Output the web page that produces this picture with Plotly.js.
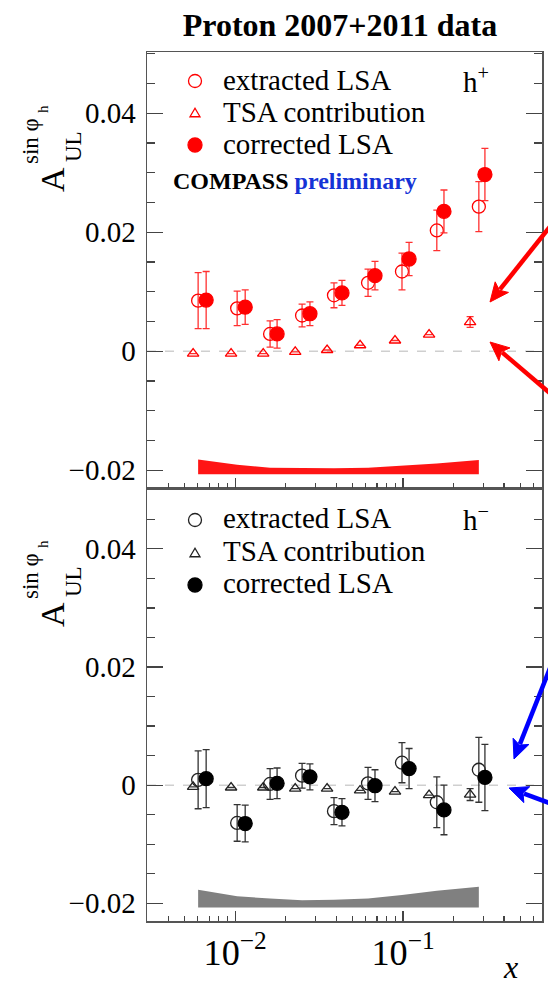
<!DOCTYPE html>
<html>
<head>
<meta charset="utf-8">
<script src="https://cdn.plot.ly/plotly-3.0.1.min.js"></script>
<style>
  html, body { margin: 0; padding: 0; background: #fff; }
  #chart { width: 548px; height: 987px; }
</style>
</head>
<body>
<div id="chart"></div>
<script>
// x positions of the three marker sets in each bin (slightly staggered)
const xTSA  = [0.00562, 0.00946, 0.0147, 0.0228, 0.0353, 0.0555, 0.0896, 0.143, 0.251];
const xExtr = [0.00602, 0.01028, 0.01615, 0.02505, 0.0388, 0.0619, 0.0986, 0.159, 0.283];
const xCorr = [0.00672, 0.01148, 0.01778, 0.0279, 0.0433, 0.0681, 0.1087, 0.1754, 0.3076];

// h+ : extracted LSA, TSA contribution, corrected LSA
const extrPos    = [0.0085, 0.0072, 0.0029, 0.0060, 0.0094, 0.0115, 0.0134, 0.0203, 0.0243];
const extrPosErr = [0.0047, 0.0029, 0.0022, 0.0019, 0.0021, 0.0023, 0.0031, 0.0034, 0.0042];
const tsaPos     = [-0.0004, -0.0004, -0.0004, -0.0001, 0.0002, 0.0010, 0.0018, 0.0028, 0.0049];
const tsaPosErr  = [0, 0, 0, 0, 0, 0, 0, 0, 0.0009];
const corrPos    = [0.0086, 0.0074, 0.0029, 0.0063, 0.0098, 0.0127, 0.0155, 0.0235, 0.0297];
const corrPosErr = [0.0048, 0.0029, 0.0024, 0.0020, 0.0021, 0.0024, 0.0028, 0.0036, 0.0044];
// h+ systematic band (upper and lower edge)
const sysPosTop = [-0.0182, -0.0191, -0.0196, -0.0197, -0.0197, -0.0196, -0.0193, -0.0189, -0.0183];
const sysPosBot = [-0.0207, -0.0207, -0.0207, -0.0207, -0.0207, -0.0207, -0.0207, -0.0207, -0.0207];

// h- : extracted LSA, TSA contribution, corrected LSA
const extrNeg    = [0.0009, -0.0064, 0.0002, 0.0016, -0.0044, 0.0003, 0.0038, -0.0029, 0.0026];
const extrNegErr = [0.0049, 0.0031, 0.0026, 0.0021, 0.0023, 0.0027, 0.0034, 0.0043, 0.0055];
const tsaNeg     = [-0.0003, -0.0004, -0.0004, -0.0006, -0.0006, -0.0009, -0.0011, -0.0017, -0.0016];
const tsaNegErr  = [0, 0, 0, 0, 0, 0, 0, 0, 0.0010];
const corrNeg    = [0.0011, -0.0065, 0.0003, 0.0014, -0.0046, -0.0001, 0.0028, -0.0042, 0.0013];
const corrNegErr = [0.0049, 0.0031, 0.0026, 0.0022, 0.0023, 0.0027, 0.0034, 0.0042, 0.0056];
// h- systematic band
const sysNegTop = [-0.0177, -0.0188, -0.0192, -0.0195, -0.0194, -0.0192, -0.0186, -0.0179, -0.0172];
const sysNegBot = [-0.0207, -0.0207, -0.0207, -0.0207, -0.0207, -0.0207, -0.0207, -0.0207, -0.0207];

const legendLabels = ['extracted LSA', 'TSA contribution', 'corrected LSA'];

// ---- page geometry (pixels) ----
const W = 548, H = 987;
const M = { l: 147, r: 6, t: 52, b: 66 };
const plotW = W - M.l - M.r, plotH = H - M.t - M.b;
const PX = px => (px - M.l) / plotW;          // pixel x -> paper x
const PY = py => (H - M.b - py) / plotH;      // pixel y -> paper y
const split = PY(488);

const SERIF = 'Liberation Serif, Times New Roman, serif';
const RED = '#ff0000';
const BLK = '#000000';

function band(xs, top, bot, color, xa, ya) {
  return {
    x: xs.concat(xs.slice().reverse()),
    y: top.concat(bot.slice().reverse()),
    xaxis: xa, yaxis: ya, type: 'scatter', mode: 'lines',
    fill: 'toself', fillcolor: color, line: { width: 0, color: color },
    hoverinfo: 'skip', showlegend: false
  };
}
function pts(xs, ys, es, symbol, size, color, errColor, xa, ya) {
  return {
    x: xs, y: ys, xaxis: xa, yaxis: ya, type: 'scatter', mode: 'markers',
    marker: { symbol: symbol, size: size, color: color, line: { color: color, width: 1.3 } },
    error_y: { type: 'data', array: es, visible: true, color: errColor, thickness: 1.3, width: 3.5 },
    showlegend: false, cliponaxis: false
  };
}

const traces = [
  band(xExtr, sysPosTop, sysPosBot, '#ff1515', 'x2', 'y'),
  pts(xTSA, tsaPos, tsaPosErr, 'triangle-up-open', 10, RED, '#ff3030', 'x2', 'y'),
  pts(xExtr, extrPos, extrPosErr, 'circle-open', 13, RED, '#ff3030', 'x2', 'y'),
  pts(xCorr, corrPos, corrPosErr, 'circle', 14, RED, '#ff3030', 'x2', 'y'),
  band(xExtr, sysNegTop, sysNegBot, '#808080', 'x', 'y2'),
  pts(xTSA, tsaNeg, tsaNegErr, 'triangle-up-open', 10, '#222', '#333', 'x', 'y2'),
  pts(xExtr, extrNeg, extrNegErr, 'circle-open', 13, '#222', '#333', 'x', 'y2'),
  pts(xCorr, corrNeg, corrNegErr, 'circle', 14, BLK, '#333', 'x', 'y2')
];

const tickFont = { family: SERIF, size: 29, color: '#000' };
const xBase = {
  type: 'log', range: [-2.525, -0.172], dtick: 1,
  exponentformat: 'power', showexponent: 'all',
  ticks: 'inside', ticklen: 10, tickwidth: 1.2, tickcolor: '#444',
  minor: { dtick: 'D1', ticks: 'inside', ticklen: 5, tickwidth: 1.2, tickcolor: '#444' },
  showline: true, linecolor: '#555', linewidth: 1.5, mirror: true,
  showgrid: false, zeroline: false, tickfont: tickFont
};
const yBase = {
  range: [-0.0230, 0.0503], dtick: 0.02, tick0: 0,
  ticks: 'inside', ticklen: 16, tickwidth: 1.2, tickcolor: '#444',
  minor: { dtick: 0.005, ticks: 'inside', ticklen: 8, tickwidth: 1.2, tickcolor: '#444' },
  showline: true, linecolor: '#555', linewidth: 1.5, mirror: 'allticks',
  showgrid: false, zeroline: false, tickfont: tickFont, ticklabelstandoff: 4
};

const ann = [];
function txt(text, px, py, size, opts) {
  ann.push(Object.assign({
    text: text, x: PX(px), y: PY(py), xref: 'paper', yref: 'paper',
    showarrow: false, xanchor: 'left', yanchor: 'middle',
    font: { family: SERIF, size: size, color: '#000' }
  }, opts || {}));
}

// legend texts, charge labels and the y-axis symbol for both panels
const legendRows = [[80, 112, 144], [518, 551, 583]];
legendRows.forEach((rows, k) => {
  rows.forEach((py, i) => txt(legendLabels[i], 221, py, 29));
  const dy = k === 0 ? 0 : 435;
  txt(k === 0 ? 'h<sup>+</sup>' : 'h<sup>\u2212</sup>', 461, rows[0], 29);
  txt('A', 52, 180 + dy, 34, { xanchor: 'center', textangle: -90 });
  txt('UL', 73, 147 + dy, 23, { xanchor: 'center', textangle: -90 });
  txt('sin \u03c6', 30, 141 + dy, 23, { xanchor: 'center', textangle: -90 });
  txt('h', 43, 109 + dy, 15, { xanchor: 'center', textangle: -90 });
});
txt('<b>COMPASS</b> <b><span style="color:#1533d6">preliminary</span></b>', 171, 181, 24);
txt('<i>x</i>', 510, 967, 32, { xanchor: 'center' });

// legend symbols (pixel-sized shapes), arrows and dashed zero lines
const shapes = [];
function circleSym(cx, cy, r, color, filled) {
  shapes.push({
    type: 'circle', xref: 'paper', yref: 'paper', xsizemode: 'pixel', ysizemode: 'pixel',
    xanchor: PX(cx), yanchor: PY(cy), x0: -r, x1: r, y0: -r, y1: r,
    line: { color: color, width: 1.3 }, fillcolor: filled ? color : 'rgba(0,0,0,0)'
  });
}
function triSym(cx, cy, s, color) {
  shapes.push({
    type: 'path', xref: 'paper', yref: 'paper', xsizemode: 'pixel', ysizemode: 'pixel',
    xanchor: PX(cx), yanchor: PY(cy),
    path: `M ${-s} ${-s * 0.75} L ${s} ${-s * 0.75} L 0 ${s * 0.95} Z`,
    line: { color: color, width: 1.3 }
  });
}
// straight arrow from a tail point to a tip point, with a filled head
function arrow(tx, ty, hx, hy, color) {
  const len = Math.hypot(hx - tx, hy - ty);
  const ux = (hx - tx) / len, uy = (hy - ty) / len;
  const headLen = 19, headHalf = 8.5;
  const bx = hx - ux * headLen, by = hy - uy * headLen;
  const nx = -uy, ny = ux;
  shapes.push({
    type: 'line', xref: 'paper', yref: 'paper',
    x0: PX(tx), y0: PY(ty), x1: PX(bx + ux * 3), y1: PY(by + uy * 3),
    line: { color: color, width: 4.5 }, layer: 'above'
  });
  const p = [[hx, hy], [bx + nx * headHalf, by + ny * headHalf], [bx + ux * 4, by + uy * 4],
             [bx - nx * headHalf, by - ny * headHalf]];
  shapes.push({
    type: 'path', xref: 'paper', yref: 'paper', layer: 'above',
    path: 'M ' + p.map(q => PX(q[0]) + ',' + PY(q[1])).join(' L ') + ' Z',
    fillcolor: color, line: { color: color, width: 1 }
  });
}
circleSym(195, 81, 6.5, RED, false);
triSym(195, 113, 5, RED);
circleSym(195, 145, 7, RED, true);
circleSym(195, 520, 6.5, '#222', false);
triSym(195, 553, 5, '#222');
circleSym(195, 585, 7, BLK, true);

arrow(552, 224, 490, 302, '#ff0000');
arrow(552, 395, 490, 342, '#ff0000');
arrow(550, 668, 514, 759, '#0000ff');
arrow(552, 804, 509, 788, '#0000ff');

['y', 'y2'].forEach(ya => shapes.push({
  type: 'line', xref: 'paper', yref: ya, x0: 0, x1: 1, y0: 0, y1: 0,
  line: { color: '#cfcfcf', width: 1.5, dash: 'dash' }, layer: 'below'
}));

const layout = {
  width: W, height: H, margin: M,
  paper_bgcolor: '#fff', plot_bgcolor: '#fff',
  showlegend: false,
  title: {
    text: '<b>Proton 2007+2011 data</b>', xref: 'container', yref: 'container',
    x: 340 / W, y: 1 - 25 / H, xanchor: 'center', yanchor: 'middle',
    font: { family: SERIF, size: 32, color: '#000' }
  },
  xaxis: Object.assign({}, xBase, { anchor: 'y2', domain: [0, 1] }),
  xaxis2: Object.assign({}, xBase, { anchor: 'y', domain: [0, 1], matches: 'x', showticklabels: false }),
  yaxis: Object.assign({}, yBase, { anchor: 'x2', domain: [split, 1] }),
  yaxis2: Object.assign({}, yBase, { anchor: 'x', domain: [0, split] }),
  annotations: ann,
  shapes: shapes
};

Plotly.newPlot('chart', traces, layout, { displayModeBar: false, staticPlot: true });
</script>
</body>
</html>
